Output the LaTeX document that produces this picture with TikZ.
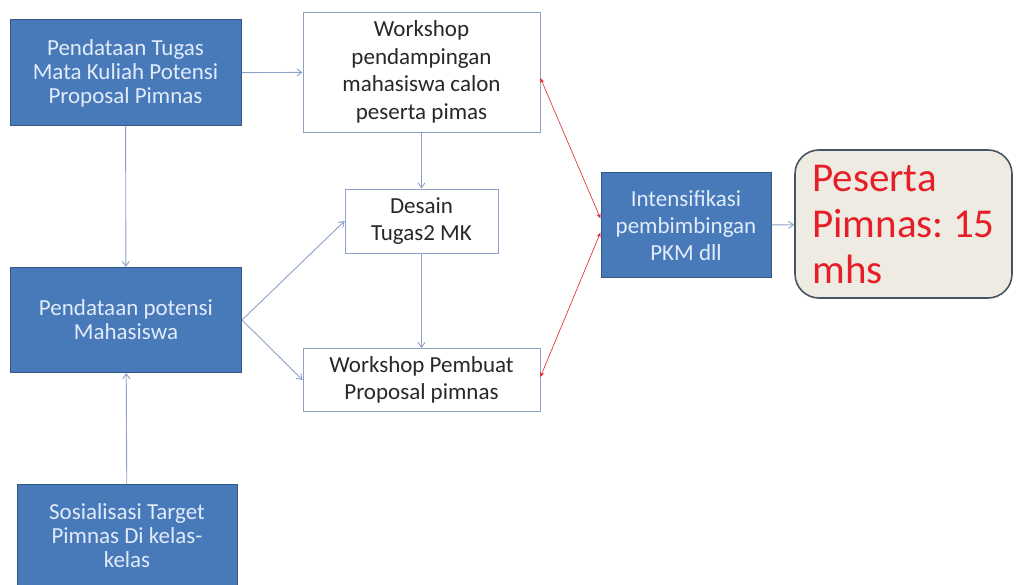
\documentclass[tikz,border=0pt]{standalone}
\usepackage{fontspec}
\setmainfont{Carlito}
\usepackage{xcolor}
\definecolor{boxblue}{RGB}{72, 122, 186}
\definecolor{boxedge}{RGB}{52, 88, 134}
\definecolor{boxtext}{RGB}{225, 235, 250}
\definecolor{linegray}{RGB}{140, 160, 200}
\definecolor{ink}{RGB}{40, 40, 40}
\definecolor{hasilfill}{RGB}{238, 236, 226}
\definecolor{hasiledge}{RGB}{70, 85, 100}
\definecolor{hasilred}{RGB}{230, 30, 40}
\usetikzlibrary{arrows.meta, positioning}
\frenchspacing

\begin{document}
\begin{tikzpicture}[x=1pt, y=-1pt,
  bluebox/.style={draw=boxedge, fill=boxblue, text=boxtext, line width=1pt,
    align=center, inner sep=2pt,
    font=\fontsize{23}{24}\selectfont},
  whitebox/.style={draw=linegray, fill=white, text=ink, line width=0.8pt,
    align=center, inner sep=2pt,
    font=\fontsize{23}{27.5}\selectfont},
  flow/.style={-{Straight Barb[length=5pt, width=7pt]}, linegray, line width=0.9pt},
  link/.style={{Stealth[length=5pt, width=4pt]}-{Stealth[length=5pt, width=4pt]},
    hasilred, line width=0.6pt}]
  \useasboundingbox (0,0) rectangle (1021,585);

  % kolom kiri
  \node[bluebox, minimum width=231pt, minimum height=106pt] (tugas) at (125.5,73)
    {Pendataan Tugas\\Mata Kuliah Potensi\\Proposal Pimnas};
  \node[bluebox, minimum width=231pt, minimum height=105pt] (potensi) at (126,320)
    {Pendataan potensi\\Mahasiswa};
  \node[bluebox, minimum width=220pt, minimum height=104pt] (sosial) at (127,536)
    {Sosialisasi Target\\Pimnas Di kelas-\\kelas};

  % kolom tengah
  \node[whitebox, minimum width=237pt, minimum height=120pt] (wsdamping) at (421.5,72)
    {Workshop\\pendampingan\\mahasiswa calon\\peserta pimas};
  \node[whitebox, minimum width=153pt, minimum height=64pt] (desain) at (421.5,221)
    {Desain\\Tugas2 MK};
  \node[whitebox, minimum width=237pt, minimum height=63pt] (wsproposal) at (421.5,380)
    {Workshop Pembuat\\Proposal pimnas};

  % kanan
  \node[bluebox, minimum width=170pt, minimum height=105pt,
        font=\fontsize{23}{27}\selectfont] (intensif) at (686,225.5)
    {Intensifikasi\\pembimbingan\\PKM dll};
  \node[draw=hasiledge, fill=hasilfill, text=hasilred, line width=1.6pt,
        rounded corners=24pt, minimum width=217pt, minimum height=148pt,
        align=left, font=\fontsize{41}{46}\selectfont] (hasil) at (903.5,224)
    {Peserta\\Pimnas: 15\\mhs};

  % alur
  \draw[flow] (tugas) -- (wsdamping);
  \draw[flow] (tugas) -- (potensi);
  \draw[flow] (sosial) -- (potensi);
  \draw[flow] (wsdamping) -- (desain);
  \draw[flow] (desain) -- (wsproposal);
  \draw[flow] (potensi.east) -- (desain.west);
  \draw[flow] (potensi.east) -- (wsproposal.west);
  \draw[flow] (intensif) -- (hasil);
  \draw[link] ([yshift=7pt]intensif.west) -- ([yshift=-6pt]wsdamping.east);
  \draw[link] ([yshift=-7pt]intensif.west) -- ([yshift=3pt]wsproposal.east);
\end{tikzpicture}
\end{document}
